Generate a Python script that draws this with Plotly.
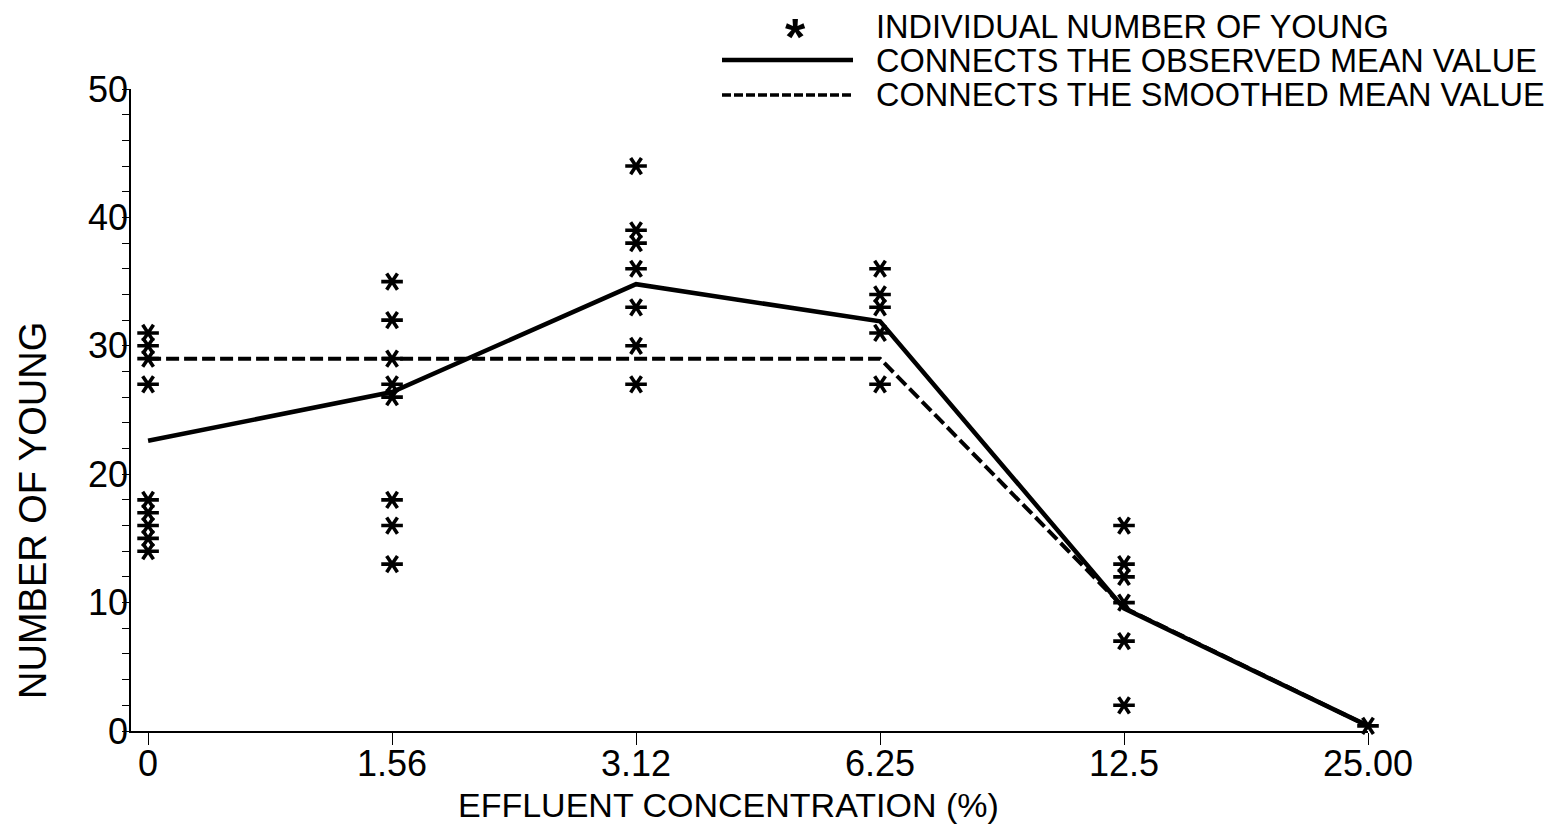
import plotly.graph_objects as go

# ---- data ----
concentrations = ["0", "1.56", "3.12", "6.25", "12.5", "25.00"]
young_0 = [31, 30, 29, 27, 18, 17, 16, 15, 14]
young_1_56 = [35, 32, 29, 27, 26, 18, 16, 13]
young_3_12 = [44, 39, 38, 36, 33, 30, 27]
young_6_25 = [36, 34, 33, 31, 27]
young_12_5 = [16, 13, 12, 10, 7, 2]
young_25 = [0.4]
observed_mean = [22.6, 26.4, 34.8, 31.9, 9.55, 0.4]
smoothed_mean = [29.0, 29.0, 29.0, 29.0, 9.6, 0.4]

legend_labels = ["INDIVIDUAL NUMBER OF YOUNG",
                 "CONNECTS THE OBSERVED MEAN VALUE",
                 "CONNECTS THE SMOOTHED MEAN VALUE"]
x_title = "EFFLUENT CONCENTRATION (%)"
y_title = "NUMBER OF YOUNG"

groups = [young_0, young_1_56, young_3_12, young_6_25, young_12_5, young_25]
pts_x, pts_y = [], []
for c, vals in zip(concentrations, groups):
    pts_x += [c] * len(vals)
    pts_y += vals

FONT = "Liberation Sans, Arial, sans-serif"
W, H = 1560, 835
L, R, T, B = 131, 192, 89, 104
PW, PH = W - L - R, H - T - B


def px(x):
    return (x - L) / PW


def py(y):
    return 1 - (y - T) / PH


fig = go.Figure()
fig.add_trace(go.Scatter(x=concentrations, y=smoothed_mean, mode="lines",
                         line=dict(color="black", width=4, dash="13px,5px"),
                         showlegend=False, cliponaxis=False))
fig.add_trace(go.Scatter(x=concentrations, y=observed_mean, mode="lines",
                         line=dict(color="black", width=4.5),
                         showlegend=False, cliponaxis=False))
for sym in ["y-left-open", "y-right-open"]:
    fig.add_trace(go.Scatter(x=pts_x, y=pts_y, mode="markers",
                             marker=dict(symbol=sym, size=13.5, color="black",
                                         line=dict(color="black", width=3.6)),
                             showlegend=False, cliponaxis=False))

annotations = [
    dict(text=x_title, x=px(728), y=py(805), xref="paper", yref="paper",
         showarrow=False, xanchor="center", yanchor="middle",
         font=dict(family=FONT, size=34, color="black")),
    dict(text=y_title, x=px(33), y=py(511), xref="paper", yref="paper",
         showarrow=False, xanchor="center", yanchor="middle", textangle=-90,
         font=dict(family=FONT, size=38, color="black")),
    dict(text="<b>*</b>", x=px(795), y=py(37), xref="paper", yref="paper",
         showarrow=False, xanchor="center", yanchor="middle",
         font=dict(family=FONT, size=52, color="black")),
]
for i, lab in enumerate(legend_labels):
    annotations.append(dict(text=lab, x=px(874), y=py(27 + 34 * i),
                            xref="paper", yref="paper", showarrow=False,
                            xanchor="left", yanchor="middle",
                            font=dict(family=FONT, size=32.5, color="black")))

shapes = [
    dict(type="line", xref="paper", yref="paper", x0=px(722), x1=px(853),
         y0=py(60), y1=py(60), line=dict(color="black", width=4.5)),
    dict(type="line", xref="paper", yref="paper", x0=px(722), x1=px(853),
         y0=py(95), y1=py(95), line=dict(color="black", width=3.5, dash="9px,3px")),
]

fig.update_layout(
    width=W, height=H,
    margin=dict(l=L, r=R, t=T, b=B, pad=0),
    paper_bgcolor="white", plot_bgcolor="white",
    font=dict(family=FONT, color="black"),
    annotations=annotations, shapes=shapes,
    showlegend=False,
)
fig.update_xaxes(type="category", categoryorder="array", categoryarray=concentrations,
                 range=[-0.07, 5], showline=True, linecolor="black", linewidth=1.5,
                 ticks="outside", ticklen=12, tickwidth=1.2, tickcolor="black",
                 ticklabelstandoff=-12,
                 showgrid=False, zeroline=False,
                 tickfont=dict(family=FONT, size=36, color="black"))
fig.update_yaxes(range=[0, 50], dtick=10, showline=True, linecolor="black", linewidth=1.5,
                 ticks="outside", ticklen=7, tickwidth=1.2, tickcolor="black",
                 ticklabelstandoff=-13,
                 minor=dict(dtick=2, ticks="outside", ticklen=7, tickwidth=1.2, tickcolor="black"),
                 showgrid=False, zeroline=False,
                 tickfont=dict(family=FONT, size=36, color="black"))

fig.write_html("out.html", config={"displayModeBar": False},
               post_script="document.body.style.margin='0';")
